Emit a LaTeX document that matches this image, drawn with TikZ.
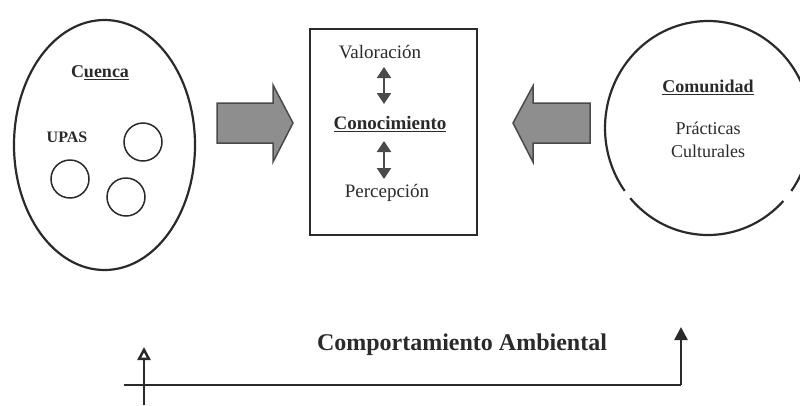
\documentclass[tikz,border=0pt]{standalone}
\usepackage{fontspec}
\setmainfont{Liberation Serif}
\usetikzlibrary{arrows.meta}
\definecolor{ink}{HTML}{2A2A2A}
\definecolor{arrowfill}{HTML}{8E8E8E}
\definecolor{arrowedge}{HTML}{4A4A4A}
\tikzset{
  outline/.style={draw=ink, line width=2.2pt},
  upa/.style={draw=ink, line width=1.5pt, circle, minimum size=38pt, inner sep=0pt},
  lbl/.style={text=ink, inner sep=0pt, font=\fontsize{18}{20}\selectfont},
  boldlbl/.style={lbl, font=\fontsize{18}{20}\selectfont\bfseries},
  bigarrow/.style={fill=arrowfill, draw=arrowedge, line width=1.5pt, line join=miter},
  dblarrow/.style={draw=arrowedge, line width=2.2pt, {Triangle[length=11pt,width=14pt]}-{Triangle[length=11pt,width=14pt]}},
  baseline/.style={draw=ink, line width=2.5pt},
}
\begin{document}
\begin{tikzpicture}[x=1pt, y=-1pt]
\useasboundingbox (0,0) rectangle (800,405);
\clip (0,0) rectangle (800,405);

% Cuenca ellipse
\draw[outline] (104.5,145) ellipse [x radius=90.5, y radius=125];
\node[boldlbl] (cuenca) at (100,73) {C\underline{uenca}};
\node[boldlbl, font=\fontsize{16}{18}\selectfont\bfseries] (upas) at (67,137) {UPAS};
\node[upa] (u1) at (143,142) {};
\node[upa] (u2) at (70,179) {};
\node[upa] (u3) at (126,197) {};

% centre box
\node[draw=ink, line width=1.5pt, minimum width=167pt, minimum height=206pt, inner sep=0pt] (box) at (393.5,132) {};
\node[lbl, font=\fontsize{19}{21}\selectfont] (val) at (380,52) {Valoración};
\node[lbl, font=\fontsize{19}{21}\selectfont\bfseries] (con) at (390,124) {\underline{Conocimiento}};
\node[lbl, font=\fontsize{19}{21}\selectfont] (per) at (387,193) {Percepción};
\coordinate (a1t) at (384,67);
\coordinate (a1b) at (384,104);
\coordinate (a2t) at (384,141);
\coordinate (a2b) at (384,179);
\draw[dblarrow] (a1t) -- (a1b);
\draw[dblarrow] (a2t) -- (a2b);

% block arrows
\draw[bigarrow] (217,103) -- (273,103) -- (273,85) -- (293,123) -- (273,162) -- (273,143) -- (217,143) -- cycle;
\draw[bigarrow] (590,103) -- (533,103) -- (533,86) -- (513,123) -- (533,162) -- (533,143) -- (590,143) -- cycle;

% Comunidad ellipse (with two small gaps at the bottom)
\draw[outline] ([shift={(36:103 and 107)}]708,128) arc[start angle=36, end angle=-216, x radius=103, y radius=107];
\draw[outline] ([shift={(139:103 and 107)}]708,128) arc[start angle=139, end angle=43, x radius=103, y radius=107];
\node[boldlbl] (com) at (708,87) {\underline{Comunidad}};
\node[lbl] (pra) at (708,128) {Prácticas};
\node[lbl] (cul) at (708,151) {Culturales};

% Comportamiento Ambiental
\node[lbl, font=\fontsize{24}{26}\selectfont\bfseries] (cam) at (462,345) {Comportamiento Ambiental};
\coordinate (hl) at (124,385);
\coordinate (hr) at (681,385);
\coordinate (rt) at (681,327);
\coordinate (lb) at (144,405);
\coordinate (lt) at (144,347);
\draw[baseline] (hl) -- (hr);
\draw[baseline, -{Triangle[length=13pt,width=13pt]}] (hr) -- (rt);
\draw[baseline, -{Triangle[open,length=13pt,width=13pt]}] (lb) -- (lt);
\end{tikzpicture}
\end{document}
